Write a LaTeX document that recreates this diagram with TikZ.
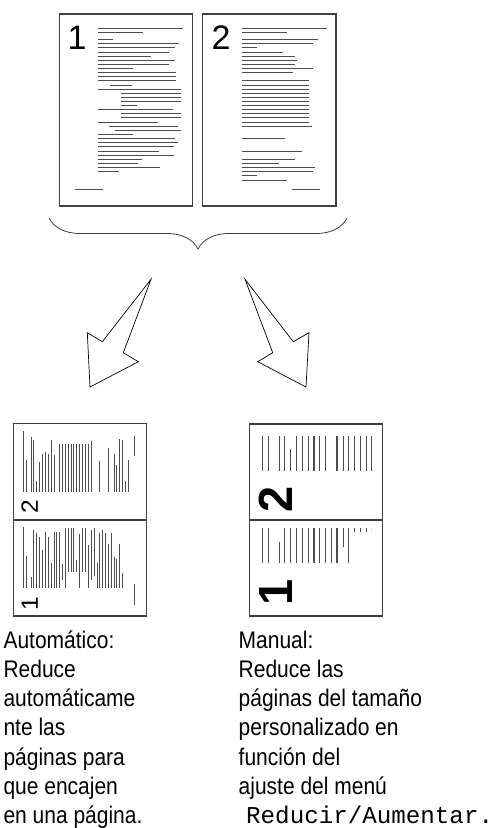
\documentclass[tikz,border=0pt]{standalone}
\usepackage{fontspec}
\setmainfont{Liberation Sans}[FakeStretch=0.875]
\newfontfamily\digitfont{Liberation Sans}
\newfontfamily\monofont{Liberation Mono}
\usetikzlibrary{positioning,decorations.pathreplacing}

\newcommand{\pageone}[1]{%
  \foreach \yy/\xa/\xb in {42/117/372,55/117/252,77/117/162,89/117/358,101/117/347,
      114/117/329,126/117/275,139/117/348,151/117/329,163/117/222,176/117/349,
      188/117/349,200/117/349,213/152/217,225/117/365,237/184/365,250/184/365,
      262/184/365,274/184/232,287/117/340,299/184/365,311/184/365,325/117/295,
      337/150/357,349/166/365,362/117/222,374/117/347,386/117/357,398/117/345,
      411/117/299,423/117/344,436/117/247,448/117/237,461/117/302,473/117/179,
      526/47/132}
    \draw[txtline] (\xa,\yy) -- (\xb,\yy);
  \node[digit] (#1) at (53,106) {1};
}
\newcommand{\pagetwo}[1]{%
  \foreach \yy/\xa/\xb in {42/117/372,55/117/252,77/117/347,89/117/332,101/117/164,
      114/117/240,126/117/277,139/117/282,151/117/277,163/117/332,176/117/272,
      200/117/318,213/117/318,225/117/318,237/117/318,250/117/318,262/117/318,
      274/117/318,287/117/318,299/117/318,311/117/318,324/117/318,336/117/328,
      373/117/247,411/117/299,436/117/277,448/117/228,461/117/337,473/117/332,
      485/117/162,498/117/252,526/267/352}
    \draw[txtline] (\xa,\yy) -- (\xb,\yy);
  \node[digit] (#1) at (55,106) {2};
}

\begin{document}
\begin{tikzpicture}[x=1pt,y=-1pt,
  pagebox/.style={draw=black!75,line width=1.4pt},
  txtline/.style={draw=black!70,line width=0.9pt},
  digit/.style={font=\digitfont\fontsize{102}{102}\selectfont,inner sep=0pt,anchor=base,transform shape},
  bigarrow/.style={draw=black,line width=0.7pt,line join=miter},
  captxt/.style={font=\fontsize{24}{29}\selectfont,inner sep=0pt,anchor=base west}]
\useasboundingbox (0,0) rectangle (497,828);

\begin{scope}[shift={(59.3,14)},scale=1/3]
  \pageone{numA}
\end{scope}
\begin{scope}[shift={(202.7,14)},scale=1/3]
  \pagetwo{numB}
\end{scope}
\draw[pagebox] (59.3,14) rectangle (192.7,206);
\draw[pagebox] (202.7,14) rectangle (336,206);

\coordinate (braceL) at (49,218);
\coordinate (braceR) at (347,218);
\draw[black!75,line width=0.8pt,decorate,decoration={brace,mirror,amplitude=31pt}] (braceL) -- (braceR);

\draw[bigarrow] (151,279.3) -- (102.3,341.7) -- (87.3,332.7) -- (90,387) -- (138.3,361.7) -- (123.3,352.7) -- cycle;
\draw[bigarrow] (245,279.3) -- (293.3,341.7) -- (309,332.7) -- (306,387) -- (257.7,361.7) -- (272.7,352.7) -- cycle;

\begin{scope}[shift={(13.3,520)},xscale=0.231,yscale=0.24,rotate=90,txtline/.append style={line width=0.8pt}]
  \pagetwo{autoB}
\end{scope}
\begin{scope}[shift={(13.3,616)},xscale=0.231,yscale=0.24,rotate=90,txtline/.append style={line width=0.8pt}]
  \pageone{autoA}
\end{scope}
\draw[pagebox] (13.3,423.3) rectangle (146.3,616);
\draw[pagebox] (13.3,520) -- (146.3,520);

\begin{scope}[digit/.append style={font=\digitfont\bfseries\fontsize{102}{102}\selectfont}]
  \begin{scope}
    \clip (250,436) rectangle (374,520);
    \begin{scope}[shift={(243,524.4)},xscale=0.47,yscale=0.46,rotate=90,txtline/.append style={line width=1.2pt}]
      \pagetwo{manB}
    \end{scope}
  \end{scope}
  \begin{scope}
    \clip (250,528) rectangle (371,616);
    \begin{scope}[shift={(243,616.5)},xscale=0.47,yscale=0.46,rotate=90,txtline/.append style={line width=1.2pt}]
      \pageone{manA}
    \end{scope}
  \end{scope}
\end{scope}
\draw[pagebox] (249.3,424) rectangle (382.3,616);
\draw[pagebox] (249.3,520) -- (382.3,520);

\foreach \t [count=\i] in {Automático:,Reduce,automáticame,nte las,páginas para,que encajen,en una página.}
  \node[captxt] (auto\i) at (3.3,{648+29.3*(\i-1)}) {\t};
\foreach \t [count=\i] in {Manual:,Reduce las,páginas del tamaño,personalizado en,función del,ajuste del menú}
  \node[captxt] (man\i) at (238.5,{648+29.3*(\i-1)}) {\t};
\node[captxt,font=\monofont\fontsize{24.2}{29}\selectfont] (menuname) at (246,823.8) {Reducir/Aumentar.};
\end{tikzpicture}
\end{document}
